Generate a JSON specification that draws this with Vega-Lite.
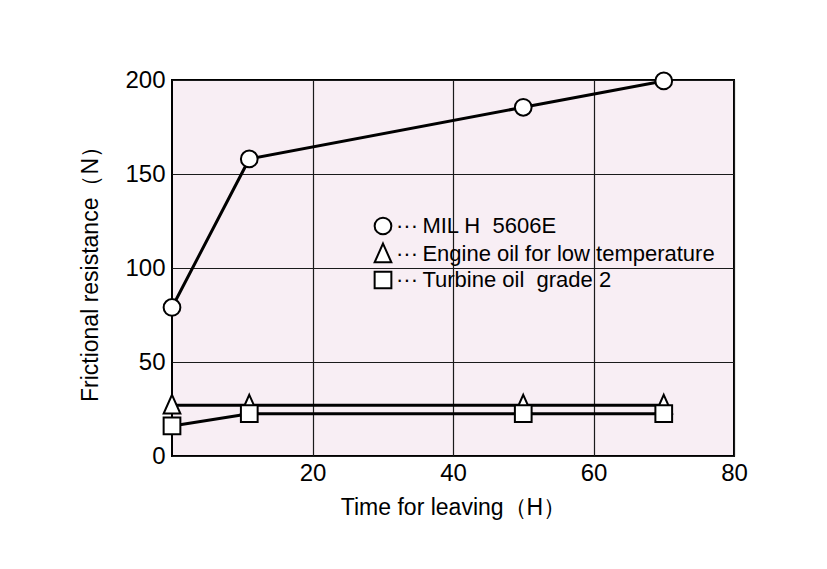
{
  "$schema": "https://vega.github.io/schema/vega-lite/v6.json",
  "width": 562,
  "height": 376,
  "autosize": {"type": "none"},
  "padding": {"left": 172, "top": 80, "right": 93, "bottom": 113},
  "background": "white",
  "config": {
    "font": "Liberation Sans",
    "view": {"fill": "#F8EEF4", "stroke": "#000000", "strokeWidth": 2},
    "axis": {
      "labelColor": "#000000",
      "titleColor": "#000000",
      "labelFont": "Liberation Sans",
      "titleFont": "Liberation Sans",
      "titleFontWeight": "normal"
    }
  },
  "data": {
    "values": [
      {"time": 0, "force": 79, "series": "MIL"},
      {"time": 11, "force": 158, "series": "MIL"},
      {"time": 50, "force": 185.5, "series": "MIL"},
      {"time": 70, "force": 199.5, "series": "MIL"},
      {"time": 0, "force": 27, "series": "Engine"},
      {"time": 11, "force": 27, "series": "Engine"},
      {"time": 50, "force": 27, "series": "Engine"},
      {"time": 70, "force": 27, "series": "Engine"},
      {"time": 0, "force": 16, "series": "Turbine"},
      {"time": 11, "force": 22.5, "series": "Turbine"},
      {"time": 50, "force": 22.5, "series": "Turbine"},
      {"time": 70, "force": 22.5, "series": "Turbine"}
    ]
  },
  "encoding": {
    "x": {
      "field": "time",
      "type": "quantitative",
      "scale": {"domain": [0, 80], "nice": false, "zero": false},
      "axis": {
        "values": [20, 40, 60, 80],
        "grid": true,
        "gridColor": "#1a1a1a",
        "gridWidth": 1.2,
        "gridOpacity": 1,
        "ticks": false,
        "tickSize": 0,
        "domain": false,
        "labelFontSize": 24,
        "labelPadding": 5,
        "labelFlush": false,
        "title": "Time for leaving（H）",
        "titleFontSize": 23,
        "titlePadding": 11
      }
    },
    "y": {
      "field": "force",
      "type": "quantitative",
      "scale": {"domain": [0, 200], "nice": false},
      "axis": {
        "values": [0, 50, 100, 150, 200],
        "grid": true,
        "gridColor": "#1a1a1a",
        "gridWidth": 1.2,
        "gridOpacity": 1,
        "ticks": false,
        "tickSize": 0,
        "domain": false,
        "labelFontSize": 24,
        "labelPadding": 7,
        "labelFlush": false,
        "title": "Frictional resistance（N）",
        "titleFontSize": 23,
        "titlePadding": 22
      }
    }
  },
  "layer": [
    {
      "mark": {"type": "line", "color": "#000000", "strokeWidth": 3},
      "encoding": {"detail": {"field": "series"}}
    },
    {
      "mark": {"type": "point", "filled": false, "fill": "#ffffff", "strokeWidth": 2, "opacity": 1, "strokeOpacity": 1, "fillOpacity": 1, "size": 280},
      "encoding": {
        "color": {
          "field": "series",
          "type": "nominal",
          "scale": {"domain": ["MIL", "Engine", "Turbine"], "range": ["#000000", "#000000", "#000000"]},
          "legend": {
            "orient": "none",
            "legendX": 200,
            "legendY": 135,
            "title": null,
            "padding": 0,
            "rowPadding": 0,
            "labelFontSize": 22,
            "labelFont": "Liberation Sans",
            "labelColor": "#000000",
            "labelOffset": 2,
            "labelLimit": 0,
            "symbolFillColor": "#ffffff",
            "symbolStrokeWidth": 2,
            "symbolSize": 280,
            "symbolOpacity": 1,
            "labelExpr": "datum.value == 'MIL' ? '···\u2009MIL H\u00a0 5606E' : datum.value == 'Engine' ? '···\u2009Engine oil for low temperature' : '···\u2009Turbine oil\u00a0 grade 2'"
          }
        },
        "shape": {
          "field": "series",
          "type": "nominal",
          "scale": {"domain": ["MIL", "Engine", "Turbine"], "range": ["circle", "M0,-1.25L1,1L-1,1Z", "square"]},
          "legend": {
            "orient": "none",
            "legendX": 200,
            "legendY": 135,
            "title": null,
            "padding": 0,
            "rowPadding": 0,
            "labelFontSize": 22,
            "labelFont": "Liberation Sans",
            "labelColor": "#000000",
            "labelOffset": 2,
            "labelLimit": 0,
            "symbolFillColor": "#ffffff",
            "symbolStrokeWidth": 2,
            "symbolSize": 280,
            "symbolOpacity": 1,
            "labelExpr": "datum.value == 'MIL' ? '···\u2009MIL H\u00a0 5606E' : datum.value == 'Engine' ? '···\u2009Engine oil for low temperature' : '···\u2009Turbine oil\u00a0 grade 2'"
          }
        }
      }
    }
  ]
}
